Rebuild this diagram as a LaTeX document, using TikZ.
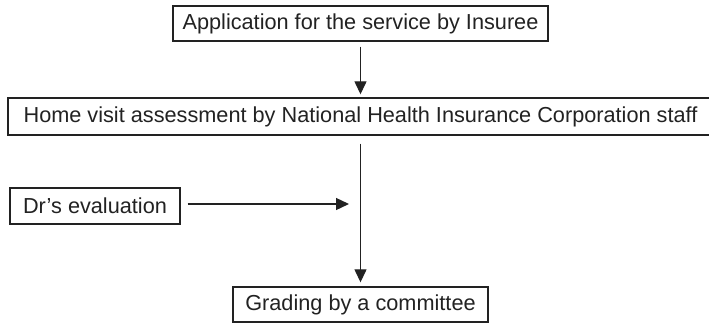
\documentclass[tikz,border=0pt]{standalone}
\usepackage{fontspec}
\setmainfont{Liberation Sans}
\usetikzlibrary{arrows.meta}
\definecolor{ink}{HTML}{222222}
\begin{document}
\begin{tikzpicture}[x=1pt,y=-1pt,
  stagebox/.style={draw=ink, line width=1.4pt, text=ink, inner sep=0pt,
    font=\fontsize{21.7}{25}\selectfont},
  flow/.style={draw=ink, line width=1.3pt, -{Triangle[length=13pt,width=12pt]}}]
  \useasboundingbox (0,0) rectangle (709,324);
  \fill[white] (0,0) rectangle (709,324);

  \node[stagebox, minimum width=375pt, minimum height=35pt] (apply) at (360.5,23.5)
    {Application for the service by Insuree};
  \node[stagebox, minimum width=705pt, minimum height=37pt] (visit) at (360.5,116.5)
    {Home visit assessment by National Health Insurance Corporation staff};
  \node[stagebox, minimum width=170pt, minimum height=36pt] (doctor) at (95,206)
    {Dr’s evaluation};
  \node[stagebox, minimum width=255pt, minimum height=35pt] (grade) at (360.5,304.5)
    {Grading by a committee};
  \coordinate (merge) at (349,204);

  \draw[flow, shorten <=5pt, shorten >=3pt] (apply) -- (visit);
  \draw[flow, shorten <=8pt, shorten >=4pt] (visit) -- (grade);
  \draw[flow, shorten <=7pt] (doctor.east |- merge) -- (merge);
\end{tikzpicture}
\end{document}
